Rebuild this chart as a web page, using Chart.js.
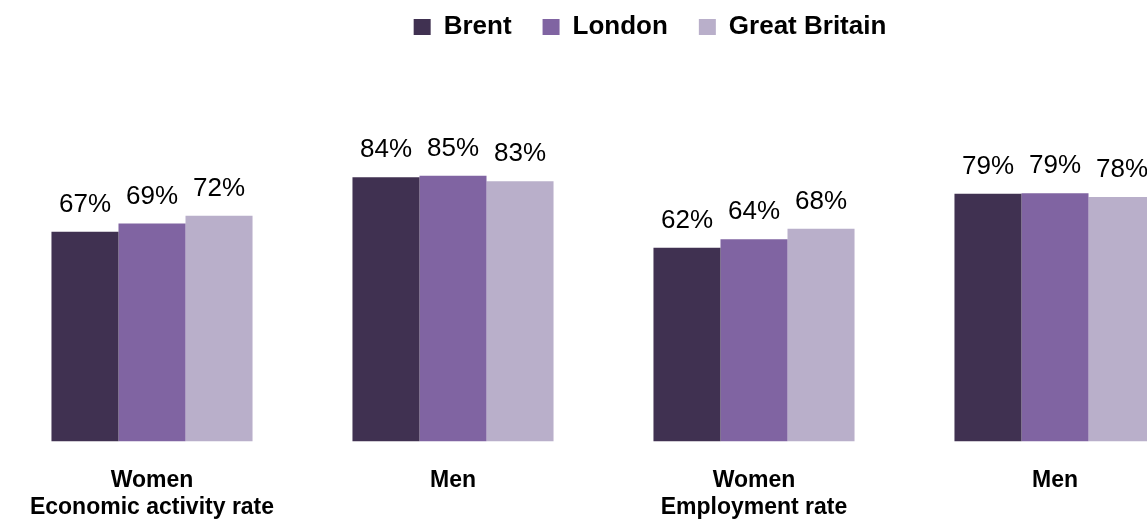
<!DOCTYPE html>
<html>
<head>
<meta charset="utf-8">
<script src="https://cdn.jsdelivr.net/npm/chart.js@4"></script>
<style>
html,body{margin:0;padding:0;overflow:hidden;background:#fff;width:1147px;height:522px}
#wrap{position:relative;width:1210px;height:522px}
</style>
</head>
<body>
<div id="wrap"><canvas id="c"></canvas></div>
<script>
const categories = [["Women","Economic activity rate"], "Men", ["Women","Employment rate"], "Men"];
const seriesNames = ["Brent", "London", "Great Britain"];
const brent = [66.8, 84.2, 61.7, 78.9];
const london = [69.4, 84.6, 64.4, 79.1];
const greatBritain = [71.9, 82.9, 67.8, 77.9];
const colors = ["#403151", "#8064A2", "#B9AFCA"];

const FONT = "'Liberation Sans', Arial, sans-serif";

const valueLabels = {
  id: 'valueLabels',
  afterDatasetsDraw(chart) {
    const ctx = chart.ctx;
    ctx.save();
    ctx.font = "26px " + FONT;
    ctx.fillStyle = "#000";
    ctx.textAlign = "center";
    ctx.textBaseline = "alphabetic";
    chart.data.datasets.forEach((ds, i) => {
      const meta = chart.getDatasetMeta(i);
      meta.data.forEach((el, j) => {
        ctx.fillText(Math.round(ds.data[j]) + "%", el.x, el.y - 20);
      });
    });
    ctx.restore();
  }
};

const legendShift = {
  id: 'legendShift',
  afterLayout(chart) {
    const lg = chart.legend;
    if (!lg) return;
    const dx = 46.5, dy = -77.5;
    lg.left += dx; lg.right += dx;
    lg.top += dy; lg.bottom += dy;
  }
};

new Chart(document.getElementById('c'), {
  type: 'bar',
  data: {
    labels: categories,
    datasets: [
      { label: seriesNames[0], data: brent, backgroundColor: colors[0] },
      { label: seriesNames[1], data: london, backgroundColor: colors[1] },
      { label: seriesNames[2], data: greatBritain, backgroundColor: colors[2] }
    ]
  },
  options: {
    responsive: true,
    maintainAspectRatio: false,
    devicePixelRatio: 1,
    animation: false,
    layout: { padding: { left: 1.5, right: 4.5, top: 60.5, bottom: -24.5 } },
    datasets: { bar: { categoryPercentage: 0.668, barPercentage: 1.0, borderWidth: 0 } },
    plugins: {
      legend: {
        position: 'top',
        labels: {
          boxWidth: 17, boxHeight: 16, padding: 31,
          color: '#000',
          font: { family: FONT, size: 26, weight: 'bold' }
        }
      },
      tooltip: { enabled: false }
    },
    scales: {
      x: {
        grid: { display: false, drawTicks: false },
        border: { display: false },
        ticks: {
          color: '#000', padding: 26, maxRotation: 0, autoSkip: false,
          font: { family: FONT, size: 23, weight: 'bold', lineHeight: 1.15 }
        }
      },
      y: {
        display: false, min: 0, max: 100
      }
    }
  },
  plugins: [valueLabels, legendShift]
});
</script>
</body>
</html>
